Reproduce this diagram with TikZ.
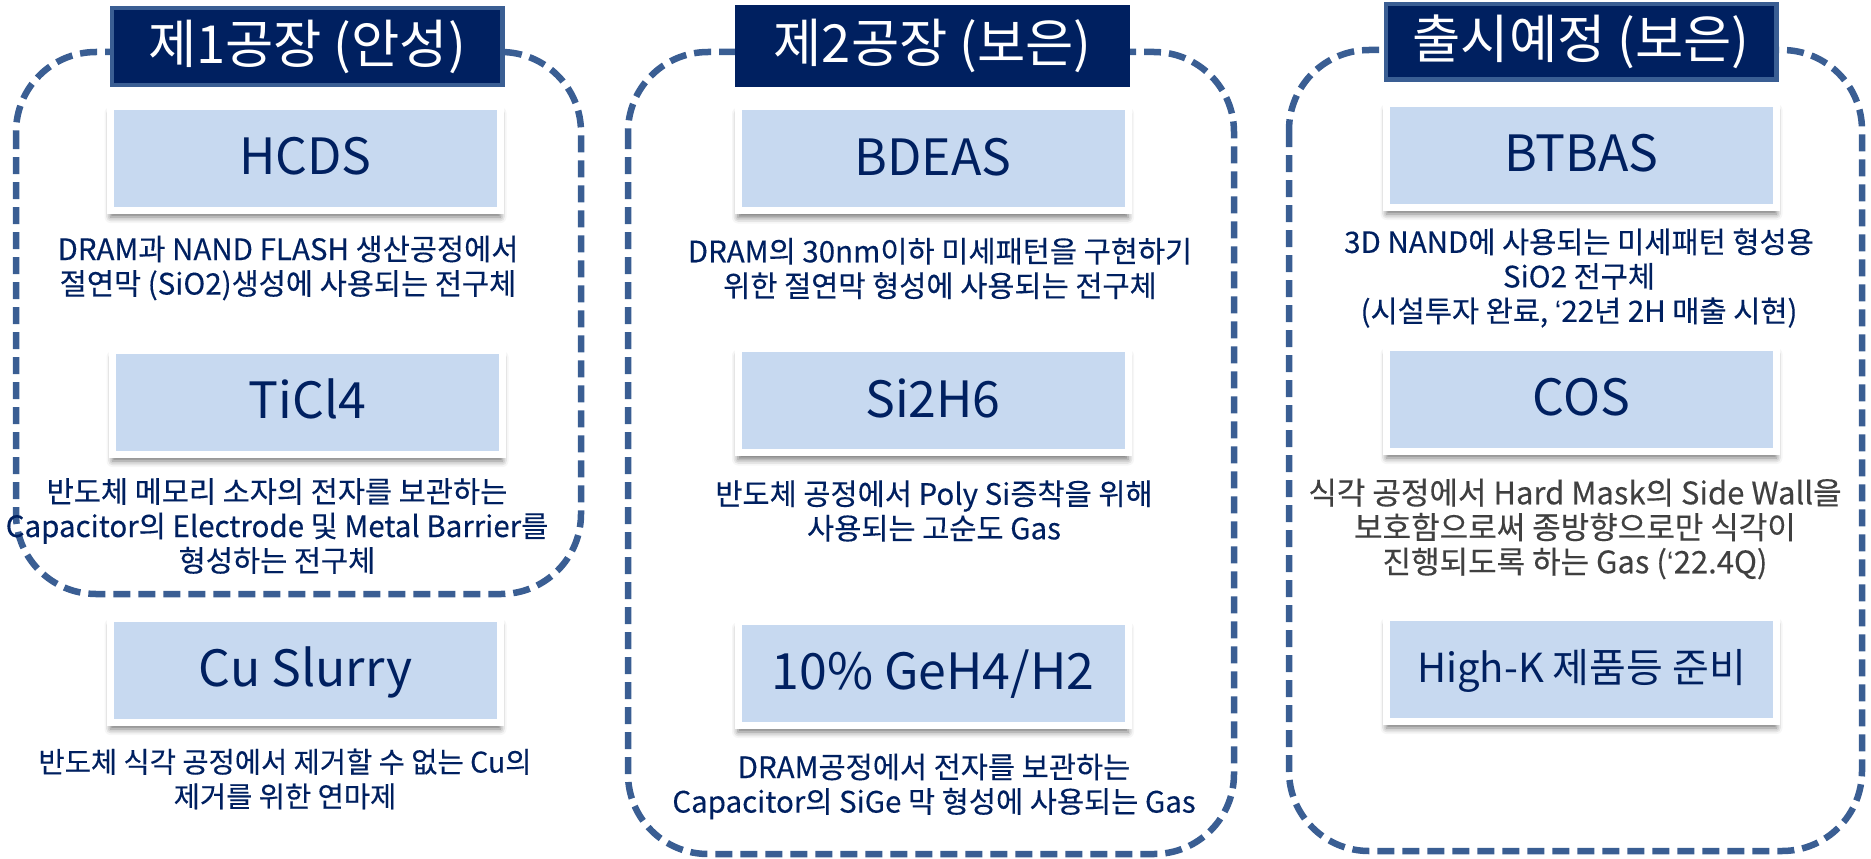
\documentclass[tikz,border=0pt]{standalone}
\usepackage{fontspec}
\setmainfont{Noto Sans CJK KR}
\newfontfamily\descfont[FakeBold=0.3]{Noto Sans CJK KR}
\newfontfamily\lat{Liberation Sans}
\usetikzlibrary{shadows.blur}
\definecolor{navy}{HTML}{002060}
\definecolor{dashblue}{HTML}{3A5E93}
\definecolor{chipfill}{HTML}{C7D9F0}
\definecolor{grytxt}{HTML}{404040}
\begin{document}
\begin{tikzpicture}[x=1pt,y=-1pt,
  group/.style={draw=dashblue, line width=6.5pt, dash pattern=on 17pt off 8pt, rounded corners=80pt},
  titlebox/.style={fill=navy, text=white, minimum width=395pt, minimum height=81pt, inner sep=0pt,
    font=\fontsize{52.5}{60}\selectfont},
  titleborder/.style={draw=dashblue, line width=4.5pt, minimum width=390.5pt},
  chip/.style={fill=chipfill, draw=white, line width=7pt, minimum width=390pt, minimum height=104pt,
    inner sep=0pt, text=navy, text height=33pt, text depth=0pt, font=\fontsize{50}{60}\selectfont,
    blur shadow={shadow xshift=0pt, shadow yshift=-7pt, shadow blur radius=6pt, shadow opacity=55}},
  desc/.style={text=navy, align=center, inner sep=0pt, font=\descfont\fontsize{29.5}{34.5}\selectfont},
]
\useasboundingbox (0,0) rectangle (1871,859);

% dashed group outlines
\draw[group] (16,52) rectangle (581,594);
\draw[group] (628,52) rectangle (1234,854);
\draw[group] (1289,50) rectangle (1862,851);

% titles
\node[titlebox, titleborder, minimum height=76.5pt] (t1) at (307,46.5) {제1공장 (안성)};
\node[titlebox] (t2) at (932.5,46) {제2공장 (보은)};
\node[titlebox, titleborder, minimum height=75.5pt] (t3) at (1581,42) {출시예정 (보은)};

% column 1
\node[chip] (hcds) at (305.5,158) {HCDS};
\node[desc] (d1) at (288,268) {DRAM과 NAND FLASH 생산공정에서\\절연막 (SiO2)생성에 사용되는 전구체};
\node[chip] (ticl) at (307.5,402) {TiCl4};
\node[desc] (d2) at (277,526) {반도체 메모리 소자의 전자를 보관하는\\Capacitor의 Electrode 및 Metal Barrier를\\형성하는 전구체};
\node[chip] (cu) at (305.5,670) {Cu Slurry};
\node[desc, font=\descfont\fontsize{28.5}{34.5}\selectfont] (d3) at (285,779) {반도체 식각 공정에서 제거할 수 없는 Cu의\\제거를 위한 연마제};

% column 2
\node[chip] (bdeas) at (933,158.5) {BDEAS};
\node[desc] (d4) at (940,268.5) {DRAM의 30nm이하 미세패턴을 구현하기\\위한 절연막 형성에 사용되는 전구체};
\node[chip] (si) at (933,400.5) {Si2H6};
\node[desc] (d5) at (934,511) {반도체 공정에서 Poly Si증착을 위해\\사용되는 고순도 Gas};
\node[chip] (ge) at (933,673) {10\% GeH4/H2};
\node[desc] (d6) at (934,786.5) {DRAM공정에서 전자를 보관하는\\Capacitor의 SiGe 막 형성에 사용되는 Gas};

% column 3
\node[chip] (btbas) at (1581.5,155) {BTBAS};
\node[desc] (d7) at (1579,278) {3D NAND에 사용되는 미세패턴 형성용\\SiO2 전구체\\(시설투자 완료, {\lat ‘}22년 2H 매출 시현)};
\node[chip] (cos) at (1581.5,399) {COS};
\node[desc, text=grytxt, font=\descfont\fontsize{31}{34.5}\selectfont] (d8) at (1575,529) {식각 공정에서 Hard Mask의 Side Wall을\\보호함으로써 종방향으로만 식각이\\진행되도록 하는 Gas ({\lat ‘}22.4Q)};
\node[chip, text height=26pt, font=\fontsize{40}{48}\selectfont] (hik) at (1581.5,669) {High-K 제품등 준비};
\end{tikzpicture}
\end{document}
